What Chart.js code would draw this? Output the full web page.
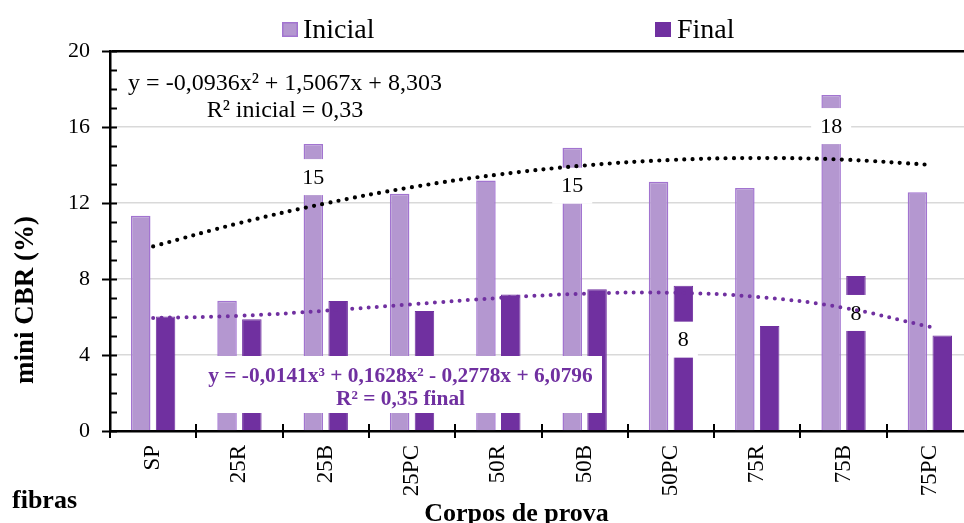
<!DOCTYPE html>
<html lang="pt">
<head>
<meta charset="utf-8">
<title>mini CBR</title>
<script src="https://cdn.jsdelivr.net/npm/chart.js@4.4.1/dist/chart.umd.min.js"></script>
<style>
  html, body { margin: 0; padding: 0; background: #fff; overflow: hidden; }
  #wrap { width: 964px; height: 523px; overflow: hidden; }
  #wrap canvas { display: block; }
</style>
</head>
<body>
<div id="wrap"><canvas id="cbr" width="980" height="523"></canvas></div>
<script>
/* ---------- data ---------- */
const corpos  = ['SP', '25R', '25B', '25PC', '50R', '50B', '50PC', '75R', '75B', '75PC'];
const inicial = [11.33, 6.86, 15.1, 12.49, 13.19, 14.91, 13.12, 12.79, 17.68, 12.56];
const final   = [6.02, 5.88, 6.84, 6.32, 7.19, 7.46, 7.65, 5.53, 8.16, 5.02];
const yTicks  = [0, 4, 8, 12, 16, 20];

// polynomial trendlines, highest power first
const coefInicial = [-0.0936, 1.5067, 8.303];
const coefFinal   = [-0.0141, 0.1628, -0.2778, 6.0796];
const r2Inicial   = 0.33;
const r2Final     = 0.35;

/* ---------- colours / fonts ---------- */
const LILAC      = '#b497d0';
const LILAC_EDGE = '#a274d0';
const PURPLE     = '#7030a0';
const SERIF      = '"Liberation Serif", "Times New Roman", serif';

/* ---------- helpers ---------- */
const dec = v => String(v).replace('.', ',');
const POW = ['', 'x', 'x²', 'x³'];

// Horner evaluation at x = 1..n (category positions)
const trend = coef => corpos.map((_, i) => coef.reduce((acc, c) => acc * (i + 1) + c, 0));

function eqText(coef) {
  const n = coef.length - 1;
  return 'y = ' + coef.map((c, k) => {
    const term = dec(Math.abs(c)) + POW[n - k];
    if (k === 0) return (c < 0 ? '-' : '') + term;
    return (c < 0 ? ' - ' : ' + ') + term;
  }).join('');
}

/* value tags: dataset index -> { bar index: px from bar top to tag centre } */
const TAGS = {
  0: { 2: 33, 5: 38, 8: 31 },
  1: { 6: 54, 8: 37 },
};

const tagPlugin = {
  id: 'valueTags',
  afterDatasetDraw(chart, args) {
    const set = TAGS[args.index];
    if (!set) return;
    const ctx  = chart.ctx;
    const vals = chart.data.datasets[args.index].data;
    ctx.save();
    ctx.font = '22px ' + SERIF;
    ctx.textAlign = 'center';
    ctx.textBaseline = 'middle';
    Object.keys(set).forEach(k => {
      const bar = args.meta.data[k];
      const txt = String(Math.round(vals[k]));
      const w   = ctx.measureText(txt).width + 18;
      const cy  = bar.y + set[k];
      ctx.fillStyle = '#fff';
      ctx.fillRect(bar.x - w / 2, cy - 18, w, 36);
      ctx.fillStyle = '#000';
      ctx.fillText(txt, bar.x, cy + 1);
    });
    ctx.restore();
  },
};

/* axis tick marks, legend, titles and equations */
const decorPlugin = {
  id: 'decor',
  afterDatasetsDraw(chart) {
    const ctx = chart.ctx;
    ctx.save();
    // final trend equation sits on a white box over the bars
    ctx.fillStyle = '#fff';
    ctx.fillRect(203, 356, 399, 57);
    ctx.fillStyle = PURPLE;
    ctx.font = 'bold 21.4px ' + SERIF;
    ctx.textAlign = 'center';
    ctx.fillText(eqText(coefFinal), 400.5, 381.5);
    ctx.fillText('R² = ' + dec(r2Final) + ' final', 400.5, 405);

    // initial trend equation
    ctx.fillStyle = '#000';
    ctx.font = '24px ' + SERIF;
    ctx.fillText(eqText(coefInicial), 285, 90);
    ctx.fillText('R² inicial = ' + dec(r2Inicial), 285, 117);
    ctx.restore();
  },
  afterDraw(chart) {
    const ctx = chart.ctx;
    const xs = chart.scales.x, ys = chart.scales.y;
    ctx.save();

    // y ticks: majors cross the axis, minors point inwards
    ctx.strokeStyle = '#000';
    ctx.lineWidth = 2;
    const left = ys.right;
    for (let v = ys.min; v <= ys.max; v++) {
      const py = Math.round(ys.getPixelForValue(v)) + 0.5;
      const major = yTicks.includes(v);
      ctx.beginPath();
      ctx.moveTo(major ? left - 8 : left + 1, py);
      ctx.lineTo(left + 7, py);
      ctx.stroke();
    }
    // x ticks on category boundaries
    const step = xs.width / corpos.length;
    for (let i = 0; i <= corpos.length; i++) {
      const px = Math.round(xs.left + i * step);
      ctx.beginPath();
      ctx.moveTo(px, xs.top - 7);
      ctx.lineTo(px, xs.top + 7);
      ctx.stroke();
    }

    // legend
    ctx.font = '28px ' + SERIF;
    ctx.textAlign = 'left';
    ctx.textBaseline = 'alphabetic';
    ctx.lineWidth = 1.5;
    ctx.fillStyle = LILAC;
    ctx.strokeStyle = LILAC_EDGE;
    ctx.fillRect(282, 22, 16, 15);
    ctx.strokeRect(282.75, 22.75, 14.5, 13.5);
    ctx.fillStyle = '#000';
    ctx.fillText('Inicial', 303, 38);
    ctx.fillStyle = PURPLE;
    ctx.fillRect(655, 22, 16, 15);
    ctx.fillStyle = '#000';
    ctx.fillText('Final', 677, 38);

    // axis titles
    ctx.font = 'bold 26px ' + SERIF;
    ctx.textAlign = 'center';
    ctx.fillText('Corpos de prova', 516.5, 521);
    ctx.textAlign = 'left';
    ctx.fillText('fibras', 12, 508);
    ctx.font = 'bold 27px ' + SERIF;
    ctx.translate(33, 300);
    ctx.rotate(-Math.PI / 2);
    ctx.textAlign = 'center';
    ctx.fillText('mini CBR (%)', 0, 0);
    ctx.restore();
  },
};

/* ---------- chart ---------- */
const dotted = {
  type:           'line',
  order:          0,
  borderWidth:    4.2,
  borderDash:     [0, 8.3],
  borderCapStyle: 'round',
  pointRadius:    0,
  tension:        0.4,
  fill:           false,
};

new Chart(document.getElementById('cbr').getContext('2d'), {
  type: 'bar',
  data: {
    labels: corpos,
    datasets: [
      {
        label:              'Inicial',
        data:               inicial,
        order:              1,
        backgroundColor:    LILAC,
        borderColor:        LILAC_EDGE,
        borderWidth:        1.5,
        categoryPercentage: 0.575,
        barPercentage:      0.786,
      },
      {
        label:              'Final',
        data:               final,
        order:              1,
        backgroundColor:    PURPLE,
        borderColor:        PURPLE,
        borderWidth:        1,
        categoryPercentage: 0.575,
        barPercentage:      0.786,
      },
      { ...dotted, label: 'Tendência inicial', data: trend(coefInicial), borderColor: '#000' },
      { ...dotted, label: 'Tendência final',   data: trend(coefFinal),   borderColor: PURPLE, borderWidth: 4 },
    ],
  },
  options: {
    responsive: false,
    animation:  false,
    layout: { padding: { top: 51, right: 7, left: 0, bottom: 0 } },
    plugins: {
      legend:  { display: false },
      tooltip: { enabled: false },
    },
    scales: {
      x: {
        grid:   { display: false, drawTicks: false },
        border: { color: '#000', width: 2.5 },
        ticks: {
          color:       '#000',
          font:        { family: SERIF, size: 23 },
          minRotation: 90,
          maxRotation: 90,
          autoSkip:    false,
          padding:     14,
        },
        afterFit: s => { s.height = 92; },
      },
      y: {
        min: 0,
        max: 20,
        afterBuildTicks: s => { s.ticks = yTicks.map(v => ({ value: v })); },
        grid: {
          drawTicks: false,
          color:     c => c.tick.value === 20 ? '#000' : '#d9d9d9',
          lineWidth: c => c.tick.value === 20 ? 2.5 : 1.5,
        },
        border: { color: '#000', width: 2.5 },
        ticks: {
          color:   '#000',
          font:    { family: SERIF, size: 22 },
          padding: 20,
        },
        afterFit: s => { s.width = 110; },
      },
    },
  },
  plugins: [tagPlugin, decorPlugin],
});
</script>
</body>
</html>
